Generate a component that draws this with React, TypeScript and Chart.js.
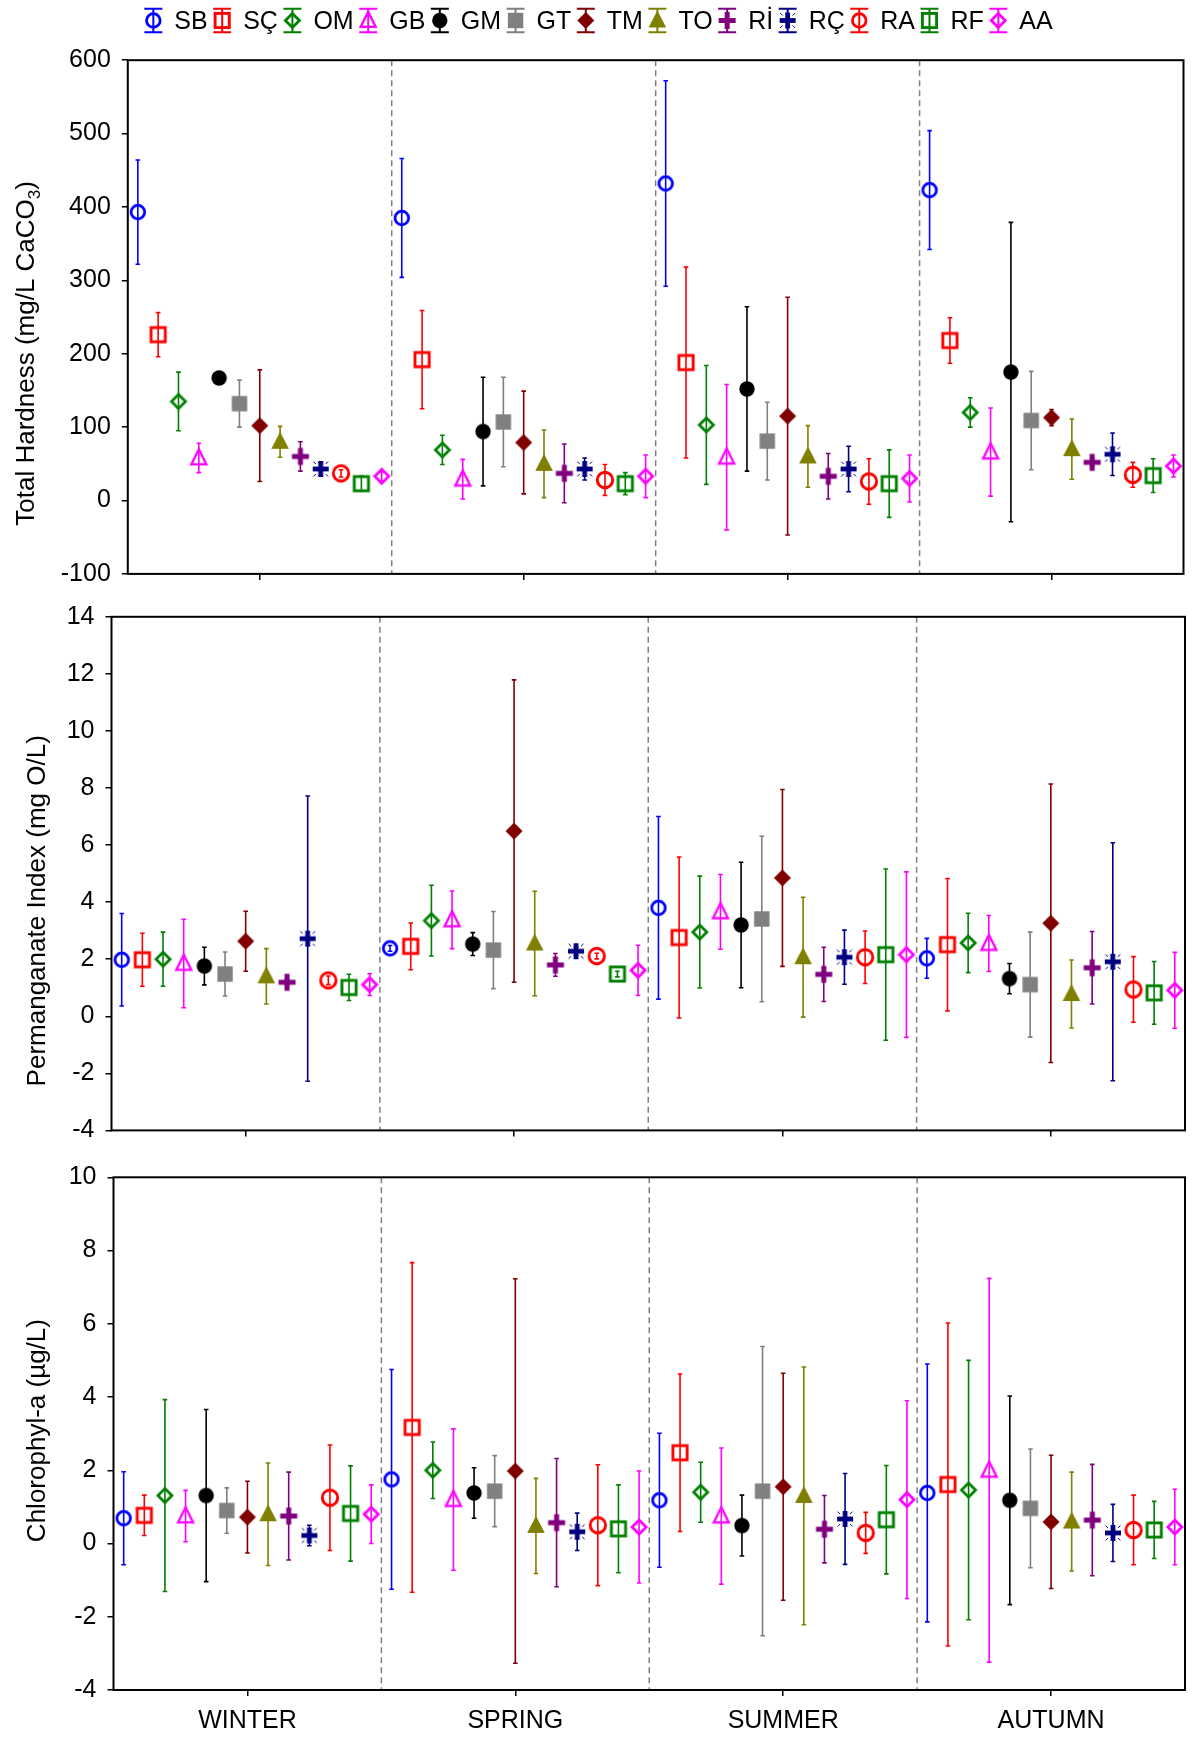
import React, { useEffect, useRef } from 'react';
import { Chart, registerables } from 'chart.js';

Chart.register(...registerables);

const FONT = '"Liberation Sans", Arial, Helvetica, sans-serif';
Chart.defaults.font.family = FONT;
Chart.defaults.color = '#000';

const PAGE_W = 1194;

// ---------------- data ----------------
const seasons = ['WINTER', 'SPRING', 'SUMMER', 'AUTUMN'];
const stations = ['SB', 'SÇ', 'OM', 'GB', 'GM', 'GT', 'TM', 'TO', 'Rİ', 'RÇ', 'RA', 'RF', 'AA'];
const stationColors = ['#0000FF', '#FF0000', '#008000', '#FF00FF', '#000000', '#808080', '#800000', '#808000', '#800080', '#000080', '#FF0000', '#008000', '#FF00FF'];
const stationMarkers = ['circleOpen', 'squareOpen', 'diamondOpen', 'triangleOpen', 'circleFilled', 'squareFilled', 'diamondFilled', 'triangleFilled', 'plus', 'plusStar', 'circleOpenL', 'squareOpen', 'diamondOpen'];

// rows = stations (same order as above), columns = seasons (W, Sp, Su, Au)
const hardnessMean = [
  [393, 385, 432, 423],
  [226, 192, 188, 218],
  [135, 69, 103, 120],
  [58, 29, 59, 66],
  [167, 94, 152, 175],
  [132, 107, 81, 109],
  [102, 79, 115, 113],
  [80, 50, 60, 70],
  [60, 37, 33, 52],
  [43, 43, 43, 63],
  [37, 28, 26, 35],
  [23, 23, 23, 34],
  [33, 33, 30, 47],
];
const hardnessErr = [
  [71, 81, 140, 81],
  [30, 67, 130, 31],
  [40, 20, 81, 20],
  [20, 27, 99, 60],
  [8, 74, 112, 204],
  [32, 61, 53, 67],
  [76, 70, 162, 11],
  [21, 46, 42, 41],
  [20, 40, 31, 6],
  [9, 15, 31, 29],
  [5, 21, 31, 17],
  [10, 15, 46, 23],
  [6, 29, 32, 15],
];

const permanganateMean = [
  [1.98, 2.38, 3.8, 2.03],
  [1.98, 2.45, 2.76, 2.51],
  [2.0, 3.35, 2.95, 2.57],
  [1.85, 3.38, 3.66, 2.55],
  [1.76, 2.53, 3.2, 1.32],
  [1.48, 2.32, 3.41, 1.11],
  [2.63, 6.49, 4.85, 3.26],
  [1.4, 2.55, 2.07, 0.78],
  [1.19, 1.8, 1.47, 1.7],
  [2.72, 2.28, 2.07, 1.91],
  [1.26, 2.11, 2.07, 0.94],
  [1.01, 1.48, 2.16, 0.82],
  [1.11, 1.61, 2.16, 0.91],
];
const permanganateErr = [
  [1.62, 0.1, 3.2, 0.7],
  [0.93, 0.82, 2.82, 2.32],
  [0.95, 1.24, 1.96, 1.04],
  [1.55, 1.01, 1.31, 0.98],
  [0.66, 0.4, 2.2, 0.53],
  [0.77, 1.35, 2.9, 1.84],
  [1.05, 5.3, 3.1, 4.88],
  [0.97, 1.83, 2.1, 1.19],
  [0.1, 0.4, 0.95, 1.27],
  [5.0, 0.15, 0.95, 4.17],
  [0.15, 0.1, 0.92, 1.15],
  [0.46, 0.1, 3.0, 1.1],
  [0.38, 0.88, 2.9, 1.33],
];

const chlorophyllMean = [
  [0.69, 1.75, 1.18, 1.38],
  [0.77, 3.17, 2.48, 1.61],
  [1.31, 2.0, 1.4, 1.46],
  [0.75, 1.2, 0.75, 2.0],
  [1.31, 1.38, 0.49, 1.18],
  [0.9, 1.43, 1.43, 0.96],
  [0.72, 1.98, 1.55, 0.59],
  [0.8, 0.48, 1.3, 0.6],
  [0.75, 0.57, 0.39, 0.64],
  [0.22, 0.32, 0.67, 0.29],
  [1.25, 0.5, 0.29, 0.37],
  [0.82, 0.4, 0.65, 0.37],
  [0.8, 0.45, 1.2, 0.45],
];
const chlorophyllErr = [
  [1.27, 3.0, 1.83, 3.52],
  [0.55, 4.5, 2.15, 4.41],
  [2.62, 0.77, 0.82, 3.54],
  [0.7, 1.93, 1.86, 5.24],
  [2.35, 0.69, 0.83, 2.85],
  [0.62, 0.97, 3.95, 1.62],
  [0.98, 5.25, 3.1, 1.82],
  [1.4, 1.3, 3.52, 1.35],
  [1.2, 1.75, 0.92, 1.52],
  [0.28, 0.51, 1.24, 0.78],
  [1.44, 1.65, 0.56, 0.95],
  [1.3, 1.2, 1.48, 0.78],
  [0.8, 1.53, 2.7, 1.03],
];

// y axis: [min, max, step]
const hardnessAxis = [-100, 600, 100];
const permanganateAxis = [-4, 14, 2];
const chlorophyllAxis = [-4, 10, 2];

// ---------------- layout ----------------
const STATION_STEP = 0.077;

const panels = [
  {
    key: 'hardness', top: 0, height: 590,
    plotLeft: 127.8, plotTop: 60.2, plotRight: 1183.5, plotBottom: 573.9,
    title: [['Total Hardness (mg/L CaCO', false], ['3', true], [')', false]],
    titleX: 33.7, titleY: 353.4,
    showLabels: false, legend: true,
    means: hardnessMean, errs: hardnessErr, axis: hardnessAxis,
  },
  {
    key: 'perm', top: 590, height: 560,
    plotLeft: 111.5, plotTop: 616.8, plotRight: 1192.5, plotBottom: 1130.4,
    title: [['Permanganate Index (mg O/L)', false]],
    titleX: 45, titleY: 320.8,
    showLabels: false, legend: false,
    means: permanganateMean, errs: permanganateErr, axis: permanganateAxis,
  },
  {
    key: 'chl', top: 1150, height: 587,
    plotLeft: 113.5, plotTop: 1177.3, plotRight: 1192.5, plotBottom: 1690,
    title: [['Chlorophyl-a (µg/L)', false]],
    titleX: 44.8, titleY: 280.6,
    showLabels: true, legend: false,
    means: chlorophyllMean, errs: chlorophyllErr, axis: chlorophyllAxis,
  },
];

// ---------------- markers ----------------
function diamondPath(ctx: CanvasRenderingContext2D, cx: number, cy: number, r: number) {
  ctx.beginPath();
  ctx.moveTo(cx, cy - r);
  ctx.lineTo(cx + r, cy);
  ctx.lineTo(cx, cy + r);
  ctx.lineTo(cx - r, cy);
  ctx.closePath();
}

function drawMarker(ctx: CanvasRenderingContext2D, kind: string, color: string, cx: number, cy: number) {
  ctx.save();
  ctx.strokeStyle = color;
  ctx.fillStyle = color;
  ctx.lineJoin = 'miter';
  switch (kind) {
    case 'circleOpen':
      ctx.lineWidth = 2.8;
      ctx.beginPath();
      ctx.arc(cx, cy, 6.8, 0, Math.PI * 2);
      ctx.stroke();
      break;
    case 'circleOpenL':
      ctx.lineWidth = 2.9;
      ctx.beginPath();
      ctx.arc(cx, cy, 7.7, 0, Math.PI * 2);
      ctx.stroke();
      break;
    case 'circleFilled':
      ctx.beginPath();
      ctx.arc(cx, cy, 7.7, 0, Math.PI * 2);
      ctx.fill();
      break;
    case 'squareOpen':
      ctx.lineWidth = 2.9;
      ctx.strokeRect(cx - 7.1, cy - 7.1, 14.2, 14.2);
      break;
    case 'squareFilled':
      ctx.fillRect(cx - 7.7, cy - 7.7, 15.4, 15.4);
      break;
    case 'diamondOpen':
      ctx.lineWidth = 2.8;
      diamondPath(ctx, cx, cy, 7);
      ctx.stroke();
      break;
    case 'diamondFilled':
      diamondPath(ctx, cx, cy, 8.5);
      ctx.fill();
      break;
    case 'triangleOpen':
      ctx.lineWidth = 2.3;
      ctx.beginPath();
      ctx.moveTo(cx, cy - 8.7);
      ctx.lineTo(cx + 7.5, cy + 6.4);
      ctx.lineTo(cx - 7.5, cy + 6.4);
      ctx.closePath();
      ctx.stroke();
      break;
    case 'triangleFilled':
      ctx.beginPath();
      ctx.moveTo(cx, cy - 10);
      ctx.lineTo(cx + 8.8, cy + 7);
      ctx.lineTo(cx - 8.8, cy + 7);
      ctx.closePath();
      ctx.fill();
      break;
    case 'plus':
      ctx.fillRect(cx - 8.5, cy - 2.5, 17, 5);
      ctx.fillRect(cx - 2.5, cy - 8.5, 5, 17);
      break;
    case 'plusStar': {
      ctx.fillRect(cx - 8, cy - 2.4, 16, 4.8);
      ctx.fillRect(cx - 2.4, cy - 8, 4.8, 16);
      ctx.lineWidth = 1;
      ctx.beginPath();
      for (let k = 0; k < 4; k++) {
        const a = Math.PI / 4 + (k * Math.PI) / 2;
        ctx.moveTo(cx + Math.cos(a) * 7, cy + Math.sin(a) * 7);
        ctx.lineTo(cx + Math.cos(a) * 10.5, cy + Math.sin(a) * 10.5);
      }
      ctx.stroke();
      break;
    }
    default:
      break;
  }
  ctx.restore();
}

function makeMarkerCanvas(kind: string, color: string) {
  const c = document.createElement('canvas');
  c.width = 28;
  c.height = 28;
  const ctx = c.getContext('2d') as CanvasRenderingContext2D;
  drawMarker(ctx, kind, color, 14, 14);
  return c;
}

function drawErrorBar(ctx: CanvasRenderingContext2D, px: number, yTop: number, yBot: number, cap: number, color: string, lw: number) {
  ctx.strokeStyle = color;
  ctx.lineWidth = lw;
  ctx.beginPath();
  ctx.moveTo(px, yTop);
  ctx.lineTo(px, yBot);
  ctx.moveTo(px - cap, yTop);
  ctx.lineTo(px + cap, yTop);
  ctx.moveTo(px - cap, yBot);
  ctx.lineTo(px + cap, yBot);
  ctx.stroke();
}

function Panel({ cfg }: { cfg: any }) {
  const ref = useRef<HTMLCanvasElement | null>(null);

  useEffect(() => {
    const canvas = ref.current;
    if (!canvas) return;
    const markerImgs = stationMarkers.map((m, j) => makeMarkerCanvas(m, stationColors[j]));
    const [yMin, yMax, yStep] = cfg.axis;
    const mid = (stations.length - 1) / 2;

    const decor = {
      id: 'decor_' + cfg.key,
      beforeDatasetsDraw(chart: any) {
        const { ctx, chartArea: a, scales } = chart;
        const x = scales.x;
        const y = scales.y;
        ctx.save();
        // season dividers
        ctx.strokeStyle = '#808080';
        ctx.lineWidth = 1.5;
        ctx.setLineDash([6, 4]);
        for (let k = 0; k < seasons.length - 1; k++) {
          const px = x.getPixelForValue(k + 0.5);
          ctx.beginPath();
          ctx.moveTo(px, a.top);
          ctx.lineTo(px, a.bottom);
          ctx.stroke();
        }
        ctx.setLineDash([]);
        // error bars
        chart.data.datasets.forEach((ds: any, j: number) => {
          ds.data.forEach((pt: any, s: number) => {
            const e = cfg.errs[j][s];
            const px = x.getPixelForValue(pt.x);
            drawErrorBar(ctx, px, y.getPixelForValue(pt.y + e), y.getPixelForValue(pt.y - e), 2.3, stationColors[j], 1.6);
          });
        });
        ctx.restore();
      },
      afterDraw(chart: any) {
        const { ctx, chartArea: a } = chart;
        ctx.save();
        // frame
        ctx.strokeStyle = '#000';
        ctx.lineWidth = 2;
        ctx.strokeRect(a.left, a.top, a.right - a.left, a.bottom - a.top);

        // y-axis title (rotated)
        const big = '26px ' + FONT;
        const small = '17px ' + FONT;
        let total = 0;
        const parts = cfg.title.map(([t, sub]: [string, boolean]) => {
          ctx.font = sub ? small : big;
          const w = ctx.measureText(t).width;
          total += w;
          return { t, sub, w };
        });
        ctx.translate(cfg.titleX, cfg.titleY);
        ctx.rotate(-Math.PI / 2);
        ctx.fillStyle = '#000';
        ctx.textBaseline = 'alphabetic';
        ctx.textAlign = 'left';
        let cx = -total / 2;
        parts.forEach((p: any) => {
          ctx.font = p.sub ? small : big;
          ctx.fillText(p.t, cx, p.sub ? 6 : 0);
          cx += p.w;
        });
        ctx.restore();

        // legend
        if (cfg.legend) {
          ctx.save();
          const lf = '25px ' + FONT;
          ctx.font = lf;
          const widths = stations.map((s) => ctx.measureText(s).width);
          const symToText = 21;
          const textToSym = 14.5;
          let sc = 0;
          let end = 0;
          const centers: number[] = [];
          widths.forEach((w) => {
            centers.push(sc);
            const ts = sc + symToText;
            end = ts + w;
            sc = ts + w + textToSym;
          });
          const spanTotal = end + 9;
          const offset = 598.5 - spanTotal / 2 + 9;
          const ly = 20.5;
          stations.forEach((s, i) => {
            const c = centers[i] + offset;
            drawErrorBar(ctx, c, ly - 11.7, ly + 11.7, 9, stationColors[i], 2);
            drawMarker(ctx, stationMarkers[i] === 'circleOpenL' ? 'circleOpen' : stationMarkers[i], stationColors[i], c, ly);
            ctx.fillStyle = '#000';
            ctx.font = lf;
            ctx.textBaseline = 'middle';
            ctx.textAlign = 'left';
            ctx.fillText(s, c + symToText, ly + 1.2);
          });
          ctx.restore();
        }
      },
    };

    const chart = new Chart(canvas, {
      type: 'scatter',
      data: {
        datasets: stations.map((name, j) => ({
          label: name,
          data: cfg.means[j].map((v: number, s: number) => ({ x: s + (j - mid) * STATION_STEP, y: v })),
          pointStyle: markerImgs[j] as any,
          pointRadius: 8,
          pointHoverRadius: 8,
          borderColor: stationColors[j],
          backgroundColor: stationColors[j],
        })),
      },
      options: {
        responsive: false,
        animation: false,
        devicePixelRatio: 1,
        events: [],
        layout: {
          padding: {
            top: cfg.plotTop - cfg.top,
            left: 0,
            right: PAGE_W - cfg.plotRight,
            bottom: 0,
          },
        },
        plugins: {
          legend: { display: false },
          tooltip: { enabled: false },
          title: { display: false },
        },
        scales: {
          x: {
            type: 'linear',
            min: -0.5,
            max: seasons.length - 0.5,
            afterBuildTicks: (s: any) => {
              s.ticks = seasons.map((_, i) => ({ value: i }));
            },
            afterFit: (s: any) => {
              s.height = cfg.top + cfg.height - cfg.plotBottom;
              s.paddingLeft = 0;
              s.paddingRight = 0;
            },
            grid: { drawOnChartArea: false, drawTicks: true, tickLength: 6, color: '#000', lineWidth: 1.5 },
            border: { display: false },
            ticks: {
              display: cfg.showLabels,
              callback: (v: any) => seasons[Math.round(Number(v))] ?? '',
              font: { size: 25, family: FONT },
              color: '#000',
              padding: 10,
              maxRotation: 0,
              autoSkip: false,
            },
          },
          y: {
            type: 'linear',
            min: yMin,
            max: yMax,
            afterFit: (s: any) => {
              s.width = cfg.plotLeft;
              s.paddingTop = 0;
              s.paddingBottom = 0;
            },
            grid: { drawOnChartArea: false, drawTicks: true, tickLength: 6, color: '#000', lineWidth: 1.5 },
            border: { display: false },
            ticks: {
              stepSize: yStep,
              font: { size: 25, family: FONT },
              color: '#000',
              padding: 11,
            },
          },
        },
      } as any,
      plugins: [decor],
    });
    return () => chart.destroy();
  }, [cfg]);

  return (
    <canvas
      ref={ref}
      width={PAGE_W}
      height={cfg.height}
      style={{ position: 'absolute', left: 0, top: cfg.top, display: 'block' }}
    />
  );
}

export default function App() {
  return (
    <div style={{ position: 'absolute', left: 0, top: 0, width: PAGE_W, height: 1737, background: '#fff', overflow: 'hidden' }}>
      {panels.map((p) => (
        <Panel key={p.key} cfg={p} />
      ))}
    </div>
  );
}
